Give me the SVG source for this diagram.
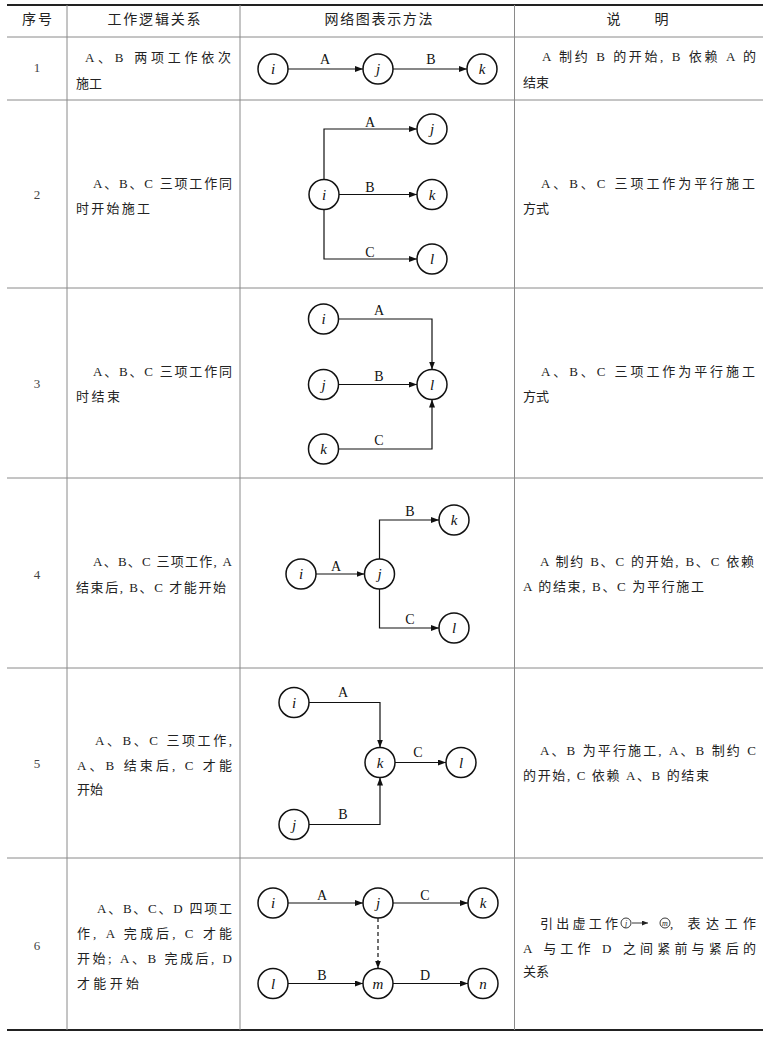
<svg xmlns="http://www.w3.org/2000/svg" width="770" height="1037" viewBox="0 0 770 1037">
<style>
.grid{stroke:#8a8a8a;stroke-width:1;fill:none}
.rule{stroke:#222;stroke-width:2;fill:none}
.t{font-family:"Liberation Serif","Noto Sans CJK SC",serif;font-size:13px;fill:#222}
.h{font-family:"Liberation Serif","Noto Sans CJK SC",serif;font-size:14px;fill:#222;text-anchor:middle}
.num{font-family:"Liberation Serif",serif;font-size:13px;fill:#444;text-anchor:middle}
.node circle{fill:#fff;stroke:#111;stroke-width:1.5}
.node text{font-family:"Liberation Serif",serif;font-style:italic;font-size:15px;fill:#111;text-anchor:middle}
.edge{stroke:#111;stroke-width:1.2;fill:none;marker-end:url(#ah)}
.dash{stroke-dasharray:4,3}
.lbl{font-family:"Liberation Serif",serif;font-size:14px;fill:#111;text-anchor:middle}
.mini circle{fill:#fff;stroke:#222;stroke-width:0.9}
.mini text{font-family:"Liberation Serif",serif;font-style:italic;font-size:8px;fill:#222;text-anchor:middle}
</style>
<defs>
<marker id="ah" viewBox="0 0 8 6" refX="8" refY="3" markerWidth="8" markerHeight="6" markerUnits="userSpaceOnUse" orient="auto">
<path d="M0,0 L8,3 L0,6 z" fill="#111"/>
</marker>
<marker id="ahs" viewBox="0 0 6 5" refX="6" refY="2.5" markerWidth="6" markerHeight="5" markerUnits="userSpaceOnUse" orient="auto">
<path d="M0,0 L6,2.5 L0,5 z" fill="#222"/>
</marker>
</defs>
<rect width="770" height="1037" fill="#fff"/>
<g id="table">
<line class="rule" x1="7" y1="5" x2="763" y2="5"/>
<line class="grid" x1="7" y1="37" x2="763" y2="37"/>
<line class="grid" x1="7" y1="100" x2="763" y2="100"/>
<line class="grid" x1="7" y1="288" x2="763" y2="288"/>
<line class="grid" x1="7" y1="478" x2="763" y2="478"/>
<line class="grid" x1="7" y1="668" x2="763" y2="668"/>
<line class="grid" x1="7" y1="858" x2="763" y2="858"/>
<line class="rule" x1="7" y1="1030" x2="763" y2="1030"/>
<line class="grid" x1="67" y1="5" x2="67" y2="1030"/>
<line class="grid" x1="240" y1="5" x2="240" y2="1030"/>
<line class="grid" x1="514.5" y1="5" x2="514.5" y2="1030"/>
</g>
<g id="header">
<text class="h" x="37" y="24" textLength="30" lengthAdjust="spacing">序号</text>
<text class="h" x="154" y="24" textLength="93" lengthAdjust="spacing">工作逻辑关系</text>
<text class="h" x="378.5" y="24" textLength="108" lengthAdjust="spacing">网络图表示方法</text>
<text class="h" x="637.5" y="24" textLength="62" lengthAdjust="spacing">说　　明</text>
</g>
<g id="numbers">
<text class="num" x="37" y="72">1</text>
<text class="num" x="37" y="199">2</text>
<text class="num" x="37" y="388">3</text>
<text class="num" x="37" y="578.5">4</text>
<text class="num" x="37" y="767.5">5</text>
<text class="num" x="37" y="949.5">6</text>
</g>
<g id="relations">
<text class="t" x="85" y="62" textLength="146" lengthAdjust="spacing">A、B 两项工作依次</text>
<text class="t" x="76" y="88">施工</text>
<text class="t" x="93" y="188" textLength="139" lengthAdjust="spacing">A、B、C 三项工作同</text>
<text class="t" x="76" y="213" textLength="74" lengthAdjust="spacing">时开始施工</text>
<text class="t" x="93" y="376" textLength="139" lengthAdjust="spacing">A、B、C 三项工作同</text>
<text class="t" x="76" y="401" textLength="44" lengthAdjust="spacing">时结束</text>
<text class="t" x="93" y="566" textLength="139" lengthAdjust="spacing">A、B、C 三项工作, A</text>
<text class="t" x="76" y="592" textLength="150" lengthAdjust="spacing">结束后, B、C 才能开始</text>
<text class="t" x="95" y="745" textLength="137" lengthAdjust="spacing">A、B、C 三项工作,</text>
<text class="t" x="77" y="770" textLength="155" lengthAdjust="spacing">A、B 结束后, C 才能</text>
<text class="t" x="77" y="794">开始</text>
<text class="t" x="97" y="913" textLength="135" lengthAdjust="spacing">A、B、C、D 四项工</text>
<text class="t" x="77" y="938" textLength="155" lengthAdjust="spacing">作, A 完成后, C 才能</text>
<text class="t" x="77" y="963" textLength="155" lengthAdjust="spacing">开始; A、B 完成后, D</text>
<text class="t" x="77" y="988" textLength="62" lengthAdjust="spacing">才能开始</text>
</g>
<g id="notes">
<text class="t" x="542" y="61" textLength="214" lengthAdjust="spacing">A 制约 B 的开始, B 依赖 A 的</text>
<text class="t" x="523" y="87">结束</text>
<text class="t" x="541" y="188" textLength="214" lengthAdjust="spacing">A、B、C 三项工作为平行施工</text>
<text class="t" x="523" y="213">方式</text>
<text class="t" x="541" y="376" textLength="214" lengthAdjust="spacing">A、B、C 三项工作为平行施工</text>
<text class="t" x="523" y="401">方式</text>
<text class="t" x="540" y="566" textLength="214" lengthAdjust="spacing">A 制约 B、C 的开始, B、C 依赖</text>
<text class="t" x="523" y="591" textLength="181" lengthAdjust="spacing">A 的结束, B、C 为平行施工</text>
<text class="t" x="540" y="755" textLength="216" lengthAdjust="spacing">A、B 为平行施工, A、B 制约 C</text>
<text class="t" x="523" y="780" textLength="186" lengthAdjust="spacing">的开始, C 依赖 A、B 的结束</text>
<text class="t" x="540" y="928" textLength="78" lengthAdjust="spacing">引出虚工作</text>
<g class="mini">
<circle cx="626" cy="923" r="5"/><text x="626" y="926">j</text>
<line x1="632" y1="923" x2="648" y2="923" stroke="#222" stroke-width="0.9" marker-end="url(#ahs)"/>
<circle cx="665" cy="923" r="5"/><text x="665" y="926">m</text>
</g>
<text class="t" x="670" y="928" textLength="86" lengthAdjust="spacing">, 表达工作</text>
<text class="t" x="523" y="953" textLength="233" lengthAdjust="spacing">A 与工作 D 之间紧前与紧后的</text>
<text class="t" x="523" y="976">关系</text>
</g>
<g id="connectors">
<path class="edge" d="M288,69 H363"/>
<path class="edge" d="M393,69 H467"/>
<path class="edge" d="M324,179.5 V129 H417"/>
<path class="edge" d="M339,194.5 H417"/>
<path class="edge" d="M324,209.5 V259 H417"/>
<path class="edge" d="M338.5,319 H432 V369.5"/>
<path class="edge" d="M338.5,384.5 H417"/>
<path class="edge" d="M338.5,449 H432 V399.5"/>
<path class="edge" d="M316,574 H364.5"/>
<path class="edge" d="M379.5,559 V520 H439"/>
<path class="edge" d="M379.5,589 V628 H439"/>
<path class="edge" d="M309,702.5 H380 V747.5"/>
<path class="edge" d="M309,824.5 H380 V777.5"/>
<path class="edge" d="M395,762.5 H446"/>
<path class="edge" d="M288,903 H363"/>
<path class="edge" d="M393,903 H468"/>
<path class="edge" d="M288,983.5 H363"/>
<path class="edge" d="M393,983.5 H468"/>
<path class="edge dash" d="M378,918 V968.5"/>
</g>
<g id="edge-labels">
<text class="lbl" x="325" y="64">A</text>
<text class="lbl" x="431" y="64">B</text>
<text class="lbl" x="370" y="126.5">A</text>
<text class="lbl" x="370" y="192">B</text>
<text class="lbl" x="370" y="256.5">C</text>
<text class="lbl" x="379" y="314.5">A</text>
<text class="lbl" x="379" y="381">B</text>
<text class="lbl" x="379" y="445">C</text>
<text class="lbl" x="336" y="571">A</text>
<text class="lbl" x="410" y="516">B</text>
<text class="lbl" x="410" y="623.5">C</text>
<text class="lbl" x="343" y="697">A</text>
<text class="lbl" x="418" y="757">C</text>
<text class="lbl" x="343" y="819">B</text>
<text class="lbl" x="322" y="900">A</text>
<text class="lbl" x="425" y="900">C</text>
<text class="lbl" x="322" y="980">B</text>
<text class="lbl" x="425" y="980">D</text>
</g>
<g id="r1-i" class="node"><circle cx="273" cy="69" r="15"/><text x="273" y="74">i</text></g>
<g id="r1-j" class="node"><circle cx="378" cy="69" r="15"/><text x="378" y="74">j</text></g>
<g id="r1-k" class="node"><circle cx="482" cy="69" r="15"/><text x="482" y="74">k</text></g>
<g id="r2-i" class="node"><circle cx="324" cy="194.5" r="15"/><text x="324" y="199.5">i</text></g>
<g id="r2-j" class="node"><circle cx="432" cy="129" r="15"/><text x="432" y="134">j</text></g>
<g id="r2-k" class="node"><circle cx="432" cy="194.5" r="15"/><text x="432" y="199.5">k</text></g>
<g id="r2-l" class="node"><circle cx="432" cy="259" r="15"/><text x="432" y="264">l</text></g>
<g id="r3-i" class="node"><circle cx="323.5" cy="319" r="15"/><text x="323.5" y="324">i</text></g>
<g id="r3-j" class="node"><circle cx="323.5" cy="384.5" r="15"/><text x="323.5" y="389.5">j</text></g>
<g id="r3-k" class="node"><circle cx="323.5" cy="449" r="15"/><text x="323.5" y="454">k</text></g>
<g id="r3-l" class="node"><circle cx="432" cy="384.5" r="15"/><text x="432" y="389.5">l</text></g>
<g id="r4-i" class="node"><circle cx="301" cy="574" r="15"/><text x="301" y="579">i</text></g>
<g id="r4-j" class="node"><circle cx="379.5" cy="574" r="15"/><text x="379.5" y="579">j</text></g>
<g id="r4-k" class="node"><circle cx="454" cy="520" r="15"/><text x="454" y="525">k</text></g>
<g id="r4-l" class="node"><circle cx="454" cy="628" r="15"/><text x="454" y="633">l</text></g>
<g id="r5-i" class="node"><circle cx="294" cy="702.5" r="15"/><text x="294" y="707.5">i</text></g>
<g id="r5-k" class="node"><circle cx="380" cy="762.5" r="15"/><text x="380" y="767.5">k</text></g>
<g id="r5-l" class="node"><circle cx="461" cy="762.5" r="15"/><text x="461" y="767.5">l</text></g>
<g id="r5-j" class="node"><circle cx="294" cy="824.5" r="15"/><text x="294" y="829.5">j</text></g>
<g id="r6-i" class="node"><circle cx="273" cy="903" r="15"/><text x="273" y="908">i</text></g>
<g id="r6-j" class="node"><circle cx="378" cy="903" r="15"/><text x="378" y="908">j</text></g>
<g id="r6-k" class="node"><circle cx="483" cy="903" r="15"/><text x="483" y="908">k</text></g>
<g id="r6-l" class="node"><circle cx="273" cy="983.5" r="15"/><text x="273" y="988.5">l</text></g>
<g id="r6-m" class="node"><circle cx="378" cy="983.5" r="15"/><text x="378" y="988.5">m</text></g>
<g id="r6-n" class="node"><circle cx="483" cy="983.5" r="15"/><text x="483" y="988.5">n</text></g>
</svg>
